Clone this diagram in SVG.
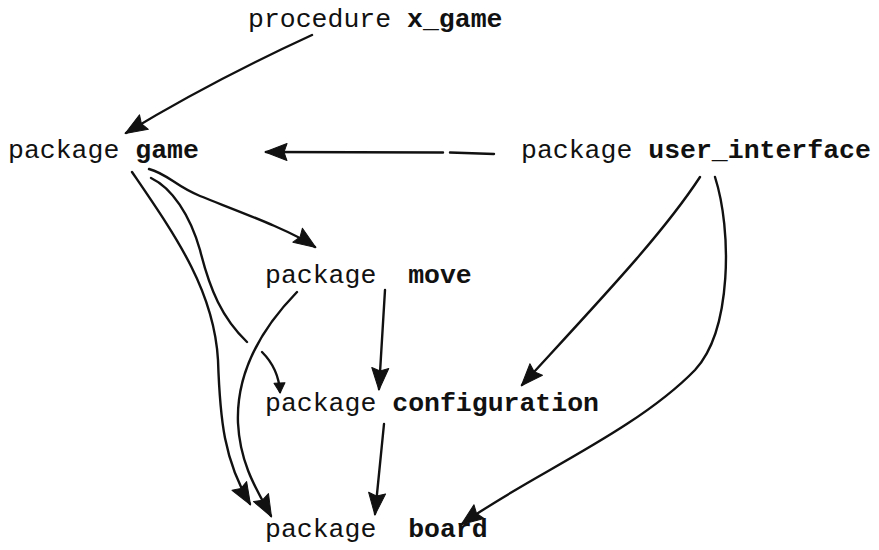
<svg xmlns="http://www.w3.org/2000/svg" width="879" height="550" viewBox="0 0 879 550">
  <style>
    .lbl { font-family: "Liberation Mono", "DejaVu Sans Mono", monospace; font-size: 26.5px; fill: #111; }
    .id { font-weight: bold; }
    .edge { fill: none; stroke: #111; stroke-width: 2.4; stroke-linecap: round; stroke-linejoin: round; }
  </style>
  <defs>
    <marker id="head" markerUnits="userSpaceOnUse" viewBox="-24 -11 26 22" markerWidth="26" markerHeight="22" refX="0" refY="0" orient="auto">
      <path d="M1,0 L-21,-8.5 L-18,0 L-21,8.5 Z" fill="#111" stroke="#111" stroke-width="1" stroke-linejoin="round"/>
    </marker>
    <marker id="head-small" markerUnits="userSpaceOnUse" viewBox="-12 -7 14 14" markerWidth="14" markerHeight="14" refX="0" refY="0" orient="auto">
      <path d="M1,0 L-9,-5.5 L-9,5.5 Z" fill="#111" stroke="#111" stroke-width="1" stroke-linejoin="round"/>
    </marker>
  </defs>
  <rect width="879" height="550" fill="#ffffff"/>

  <!-- dependency arrows -->
  <g id="connectors">
    <path class="edge" marker-end="url(#head)" d="M312,35 C275,52 205,85 126,133"/>
    <path class="edge" d="M494,154 L450,152.5"/>
    <path class="edge" marker-end="url(#head)" d="M443,152.5 L266,152"/>
    <path class="edge" marker-end="url(#head)" d="M149,169 C168,174 175,186 200,196 C240,212 290,230 315,247"/>
    <path class="edge" d="M151,178 C172,188 190,215 200,250 C210,290 222,318 247,342"/>
    <path class="edge" marker-end="url(#head-small)" d="M262,352 C272,362 279,375 280,392"/>
    <path class="edge" marker-end="url(#head)" d="M132,172 C175,235 214,290 218,360 C220,420 224,460 250,504"/>
    <path class="edge" marker-end="url(#head)" d="M297,292 C262,328 236,372 238,423 C240,465 258,492 271,516"/>
    <path class="edge" marker-end="url(#head)" d="M385,290 L379,389"/>
    <path class="edge" marker-end="url(#head)" d="M384,424 L375,514"/>
    <path class="edge" marker-end="url(#head)" d="M700,177 C662,235 600,300 522,385"/>
    <path class="edge" marker-end="url(#head)" d="M715,177 C732,230 732,330 695,370 C635,432 525,478 462,524"/>
  </g>

  <g id="x_game"><text class="lbl" x="248" y="27">procedure <tspan class="id">x_game</tspan></text></g>
  <g id="game"><text class="lbl" x="8" y="158">package <tspan class="id">game</tspan></text></g>
  <g id="user_interface"><text class="lbl" x="521" y="158">package <tspan class="id">user_interface</tspan></text></g>
  <g id="move"><text class="lbl" x="265" y="283" xml:space="preserve">package  <tspan class="id">move</tspan></text></g>
  <g id="configuration"><text class="lbl" x="265" y="411">package <tspan class="id">configuration</tspan></text></g>
  <g id="board"><text class="lbl" x="265" y="537" xml:space="preserve">package  <tspan class="id">board</tspan></text></g>
</svg>
